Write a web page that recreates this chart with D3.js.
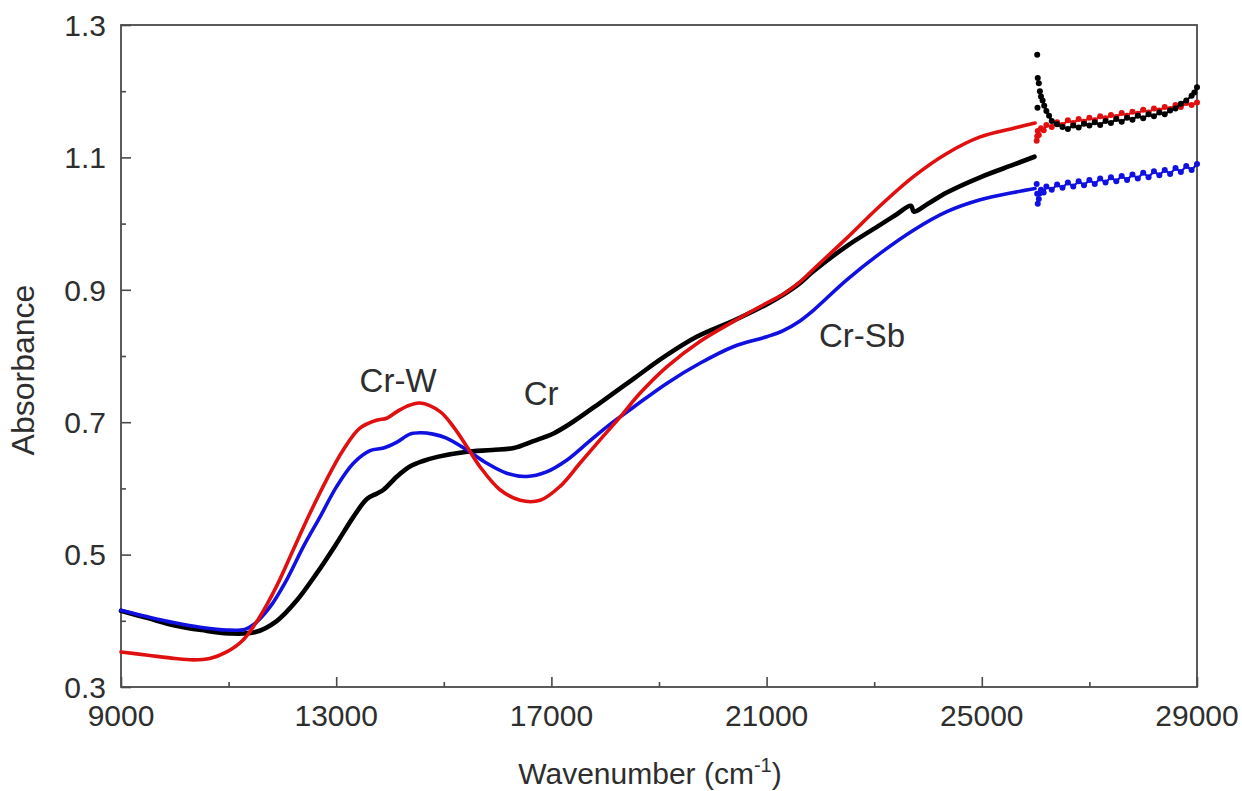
<!DOCTYPE html>
<html>
<head>
<meta charset="utf-8">
<script src="https://cdn.jsdelivr.net/npm/d3@7"></script>
<style>
  body { margin: 0; background: #fff; }
  text { font-family: 'Liberation Sans', Arial, sans-serif; fill: #2e2e2e; }
</style>
</head>
<body>
<div id="chart"></div>
<script>
// wavenumber (cm-1) / absorbance pairs, continuous part
const crLine = [
  [9000, 0.415], [9500, 0.404], [10000, 0.393], [10500, 0.386], [11000, 0.381],
  [11500, 0.383], [11900, 0.400], [12270, 0.431], [12640, 0.472], [13000, 0.516],
  [13320, 0.557], [13570, 0.584], [13750, 0.592], [13880, 0.598], [14130, 0.618],
  [14370, 0.633], [14600, 0.641], [14900, 0.648], [15400, 0.655], [15900, 0.658],
  [16300, 0.661], [16650, 0.671], [17040, 0.683], [17410, 0.701], [17900, 0.729],
  [18500, 0.764], [19100, 0.799], [19700, 0.829], [20400, 0.854], [21000, 0.878],
  [21300, 0.892], [21620, 0.910], [21870, 0.928], [22490, 0.966], [23110, 0.998],
  [23400, 1.013], [23680, 1.027], [23740, 1.018], [24000, 1.030], [24350, 1.047],
  [24970, 1.070], [25590, 1.089], [25980, 1.101]
]
const crwLine = [
  [9000, 0.353], [9500, 0.348], [10000, 0.343], [10350, 0.341], [10650, 0.343],
  [10965, 0.353], [11270, 0.371], [11580, 0.406], [11890, 0.452], [12200, 0.507],
  [12510, 0.562], [12820, 0.613], [13130, 0.658], [13440, 0.691], [13750, 0.703],
  [13940, 0.706], [14130, 0.716], [14310, 0.724], [14560, 0.729], [14930, 0.716],
  [15180, 0.693], [15430, 0.663], [15670, 0.633], [16045, 0.598], [16420, 0.582],
  [16790, 0.582], [17160, 0.603], [17530, 0.638], [17900, 0.673], [18280, 0.708],
  [18650, 0.744], [19150, 0.784], [19760, 0.822], [20380, 0.852], [21000, 0.880],
  [21300, 0.893], [21620, 0.912], [21870, 0.931], [22490, 0.978], [23110, 1.027],
  [23730, 1.071], [24350, 1.106], [24970, 1.131], [25590, 1.144], [25990, 1.152]
]
const crsbLine = [
  [9000, 0.416], [9500, 0.406], [10000, 0.397], [10500, 0.390], [10965, 0.386],
  [11300, 0.387], [11460, 0.394], [11770, 0.421], [12080, 0.462], [12390, 0.512],
  [12700, 0.557], [13010, 0.603], [13320, 0.638], [13630, 0.657], [13880, 0.661],
  [14130, 0.670], [14370, 0.682], [14560, 0.684], [14800, 0.682], [15050, 0.676],
  [15430, 0.658], [15800, 0.638], [16170, 0.623], [16540, 0.618], [16910, 0.625],
  [17290, 0.643], [17660, 0.668], [18030, 0.693], [18530, 0.723], [19150, 0.759],
  [19760, 0.789], [20380, 0.814], [21000, 0.829], [21300, 0.838], [21620, 0.853],
  [21870, 0.869], [22490, 0.915], [23110, 0.955], [23730, 0.990], [24350, 1.018],
  [24970, 1.036], [25590, 1.047], [25990, 1.053]
]

// noisy dotted part above 26000 cm-1
const crDots = [
  [26030, 1.255], [26035, 1.175], [26040, 1.220], [26060, 1.212], [26080, 1.200],
  [26100, 1.192], [26130, 1.186], [26160, 1.178], [26200, 1.170], [26250, 1.163],
  [26300, 1.155], [26400, 1.150], [26500, 1.146], [26600, 1.143], [26700, 1.148],
  [26800, 1.145], [26900, 1.151], [27000, 1.148], [27100, 1.153], [27200, 1.149],
  [27300, 1.155], [27400, 1.152], [27500, 1.158], [27600, 1.154], [27700, 1.160],
  [27800, 1.157], [27900, 1.163], [28000, 1.159], [28100, 1.165], [28200, 1.162],
  [28300, 1.168], [28400, 1.165], [28500, 1.171], [28600, 1.174], [28700, 1.181],
  [28800, 1.186], [28900, 1.193], [28950, 1.198], [29000, 1.206]
]
const crwDots = [
  [26020, 1.125], [26030, 1.132], [26040, 1.140], [26060, 1.134], [26100, 1.144],
  [26150, 1.141], [26200, 1.149], [26300, 1.146], [26400, 1.153], [26500, 1.149],
  [26600, 1.156], [26700, 1.152], [26800, 1.158], [26900, 1.154], [27000, 1.160],
  [27100, 1.156], [27200, 1.162], [27300, 1.159], [27400, 1.164], [27500, 1.161],
  [27600, 1.167], [27700, 1.163], [27800, 1.169], [27900, 1.166], [28000, 1.172],
  [28100, 1.168], [28200, 1.174], [28300, 1.171], [28400, 1.176], [28500, 1.173],
  [28600, 1.179], [28700, 1.176], [28800, 1.182], [28900, 1.179], [29000, 1.183]
]
const crsbDots = [
  [26020, 1.060], [26030, 1.045], [26040, 1.030], [26060, 1.037], [26080, 1.046],
  [26100, 1.051], [26150, 1.047], [26200, 1.056], [26300, 1.051], [26400, 1.059],
  [26500, 1.054], [26600, 1.062], [26700, 1.056], [26800, 1.064], [26900, 1.058],
  [27000, 1.066], [27100, 1.060], [27200, 1.068], [27300, 1.062], [27400, 1.070],
  [27500, 1.064], [27600, 1.072], [27700, 1.066], [27800, 1.074], [27900, 1.068],
  [28000, 1.077], [28100, 1.070], [28200, 1.079], [28300, 1.073], [28400, 1.081],
  [28500, 1.075], [28600, 1.084], [28700, 1.078], [28800, 1.087], [28900, 1.081],
  [29000, 1.090]
]

const xTicks = [9000, 13000, 17000, 21000, 25000, 29000]
const xMinor = [11000, 15000, 19000, 23000, 27000]
const yTicks = [0.3, 0.5, 0.7, 0.9, 1.1, 1.3]
const yMinor = [0.4, 0.6, 0.8, 1.0, 1.2]

const labels = [
  { text: 'Cr-W', x: 14150, y: 0.7456 },
  { text: 'Cr', x: 16810, y: 0.726 },
  { text: 'Cr-Sb', x: 22775, y: 0.8136 }
]

const width = 1242
const height = 791
const margin = { top: 25, right: 45, bottom: 104, left: 121 }

const svg = d3.select('#chart').append('svg')
  .attr('width', width)
  .attr('height', height)

const x = d3.scaleLinear()
  .domain([9000, 29000])
  .range([margin.left, width - margin.right])

const y = d3.scaleLinear()
  .domain([0.3, 1.3])
  .range([height - margin.bottom, margin.top])

const axisColor = '#4a4a4a'

// frame
svg.append('rect')
  .attr('x', x(9000))
  .attr('y', y(1.3))
  .attr('width', x(29000) - x(9000))
  .attr('height', y(0.3) - y(1.3))
  .attr('fill', 'none')
  .attr('stroke', axisColor)
  .attr('stroke-width', 1.8)

// inward ticks
const xAxis = svg.append('g')
  .attr('transform', `translate(0,${y(0.3)})`)
  .call(d3.axisTop(x).tickValues(xTicks).tickSize(10).tickFormat(''))
xAxis.append('g')
  .call(d3.axisTop(x).tickValues(xMinor).tickSize(5).tickFormat(''))
xAxis.selectAll('.domain').remove()
xAxis.selectAll('line').attr('stroke', axisColor).attr('stroke-width', 1.6)

const yAxis = svg.append('g')
  .attr('transform', `translate(${x(9000)},0)`)
  .call(d3.axisRight(y).tickValues(yTicks).tickSize(10).tickFormat(''))
yAxis.append('g')
  .call(d3.axisRight(y).tickValues(yMinor).tickSize(5).tickFormat(''))
yAxis.selectAll('.domain').remove()
yAxis.selectAll('line').attr('stroke', axisColor).attr('stroke-width', 1.6)

// tick labels
svg.append('g').selectAll('text')
  .data(xTicks)
  .join('text')
  .attr('x', d => x(d))
  .attr('y', 726)
  .attr('text-anchor', 'middle')
  .style('font-size', '30px')
  .text(d => d)

svg.append('g').selectAll('text')
  .data(yTicks)
  .join('text')
  .attr('x', 106)
  .attr('y', d => y(d))
  .attr('dy', '0.36em')
  .attr('text-anchor', 'end')
  .style('font-size', '30px')
  .text(d => d3.format('.1f')(d))

// axis titles
const xTitle = svg.append('text')
  .attr('x', 650)
  .attr('y', 784)
  .attr('text-anchor', 'middle')
  .style('font-size', '30px')
xTitle.append('tspan').text('Wavenumber (cm')
xTitle.append('tspan').attr('dy', -12).style('font-size', '20px').text('-1')
xTitle.append('tspan').attr('dy', 12).text(')')

svg.append('text')
  .attr('transform', 'translate(34,370) rotate(-90)')
  .attr('text-anchor', 'middle')
  .style('font-size', '32px')
  .text('Absorbance')

// curves
const line = d3.line()
  .x(d => x(d[0]))
  .y(d => y(d[1]))
  .curve(d3.curveCatmullRom.alpha(0.5))

const plot = svg.append('g')

const series = [
  { data: crLine, color: '#000000', w: 4.6 },
  { data: crsbLine, color: '#1010e0', w: 3.6 },
  { data: crwLine, color: '#e01010', w: 3.6 }
]
series.forEach(s => {
  plot.append('path')
    .datum(s.data)
    .attr('d', line)
    .attr('fill', 'none')
    .attr('stroke', s.color)
    .attr('stroke-width', s.w)
    .attr('stroke-linejoin', 'round')
    .attr('stroke-linecap', 'round')
})

const dotSets = [
  { data: crsbDots, color: '#1010e0' },
  { data: crwDots, color: '#e01010' },
  { data: crDots, color: '#000000' }
]
dotSets.forEach(s => {
  // thin trace through the noisy readings so the band looks dense
  plot.append('path')
    .datum(s.data.filter(d => d[0] >= 26100))
    .attr('d', d3.line().x(d => x(d[0])).y(d => y(d[1])))
    .attr('fill', 'none')
    .attr('stroke', s.color)
    .attr('stroke-width', 2.2)
  plot.append('g').selectAll('circle')
    .data(s.data)
    .join('circle')
    .attr('cx', d => x(d[0]))
    .attr('cy', d => y(d[1]))
    .attr('r', 3)
    .attr('fill', s.color)
})

// curve labels
svg.append('g').selectAll('text')
  .data(labels)
  .join('text')
  .attr('x', d => x(d.x))
  .attr('y', d => y(d.y))
  .attr('text-anchor', 'middle')
  .style('font-size', '33px')
  .text(d => d.text)
</script>
</body>
</html>
